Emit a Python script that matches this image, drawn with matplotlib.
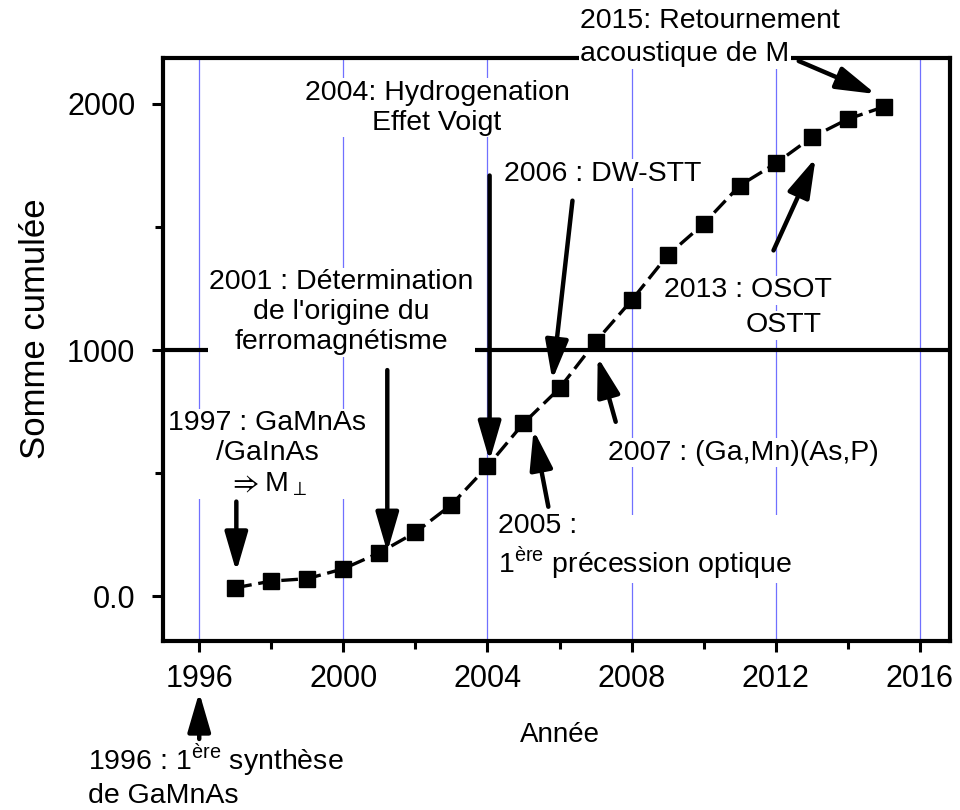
import numpy as np
import matplotlib
matplotlib.use('Agg')
import matplotlib.pyplot as plt
from matplotlib.ticker import FixedLocator, FixedFormatter

plt.rcParams['font.family'] = ['Liberation Sans', 'DejaVu Sans']
plt.rcParams['mathtext.fontset'] = 'custom'
plt.rcParams['mathtext.rm'] = 'Liberation Sans'
plt.rcParams['mathtext.fallback'] = 'stixsans'

### data
years = [1997, 1998, 1999, 2000, 2001, 2002, 2003, 2004, 2005, 2006,
         2007, 2008, 2009, 2010, 2011, 2012, 2013, 2014, 2015]
cumul = [35, 62, 72, 112, 177, 260, 372, 528, 703, 845,
         1034, 1202, 1385, 1513, 1668, 1758, 1864, 1938, 1988]

x_major = [1996, 2000, 2004, 2008, 2012, 2016]
x_minor = [1998, 2002, 2006, 2010, 2014]
y_major = [0, 1000, 2000]
y_labels = ['0.0', '1000', '2000']
y_minor = [500, 1500]

# event labels
lbl_2015 = '2015: Retournement'
lbl_2015b = 'acoustique de M'
lbl_2004 = '2004: Hydrogenation\nEffet Voigt'
lbl_2006 = '2006 : DW-STT'
lbl_2001 = "2001 : Détermination\nde l'origine du\nferromagnétisme"
lbl_1997 = '1997 : GaMnAs\n/GaInAs\n$\\Rightarrow$M$_{\\perp}$'
lbl_2005 = '2005 :\n1$^{\\mathregular{ère}}$ précession optique'
lbl_2007 = '2007 : (Ga,Mn)(As,P)'
lbl_2013 = '2013 : OSOT'
lbl_2013b = 'OSTT'
lbl_1996 = '1996 : 1$^{\\mathregular{ère}}$ synthèse\nde GaMnAs'

fig = plt.figure(figsize=(9.6, 8.1), dpi=100)
ax = fig.add_axes([0.170, 0.209, 0.820, 0.719])

ax.plot(years, cumul, color='k', lw=2.4, ls=(0, (5, 2)),
        marker='s', markersize=12, zorder=2)
ax.axhline(1000, color='k', lw=3, zorder=2)

ax.set_xlim(1995, 2016.85)
ax.set_ylim(-180, 2185)

ax.xaxis.set_major_locator(FixedLocator(x_major))
ax.xaxis.set_minor_locator(FixedLocator(x_minor))
ax.yaxis.set_major_locator(FixedLocator(y_major))
ax.yaxis.set_major_formatter(FixedFormatter(y_labels))
ax.yaxis.set_minor_locator(FixedLocator(y_minor))
ax.grid(axis='x', which='major', color='#7070ff', lw=0.9, zorder=0)
ax.set_axisbelow(True)

ax.tick_params(which='major', direction='out', length=8, width=2.2,
               labelsize=22, pad=9)
ax.tick_params(axis='y', which='major', pad=12)
ax.tick_params(which='minor', direction='out', length=6, width=2.2)
for s in ax.spines.values():
    s.set_linewidth(3)

ax.set_ylabel('Somme cumulée', fontsize=25)
ax.yaxis.set_label_coords(-0.141, 0.535)
ax.set_xlabel('Année', fontsize=20)
ax.xaxis.set_label_coords(0.504, -0.139)

box = dict(facecolor='white', edgecolor='none', pad=1)
fs = 20.5

def label(x, y, s, ha='center'):
    ax.text(x, y, s, ha=ha, va='center', fontsize=fs, bbox=box,
            multialignment=ha, linespacing=1.2, zorder=3, clip_on=False)

def arrow(tail, tip):
    ax.annotate('', xy=tip, xytext=tail, annotation_clip=False, zorder=4,
                arrowprops=dict(arrowstyle='-|>,head_length=1.2,head_width=0.35',
                                mutation_scale=20, lw=3.2, color='k',
                                shrinkA=0, shrinkB=0))

label(2006.58, 2336, lbl_2015, ha='left')
label(2006.58, 2202, lbl_2015b, ha='left')
label(2002.60, 1984, lbl_2004)
label(2007.19, 1717, lbl_2006)
label(1999.94, 1154, lbl_2001)
label(1997.89, 579, lbl_1997)
label(2004.28, 198, lbl_2005, ha='left')
label(2007.36, 583, lbl_2007, ha='left')
label(2011.22, 1243, lbl_2013)
label(2012.22, 1101, lbl_2013b)
label(1992.92, -728, lbl_1996, ha='left')

arrow((2012.64, 2174), (2014.78, 2040))
arrow((2004.06, 1709), (2004.06, 550))
arrow((2006.36, 1607), (2005.80, 879))
arrow((2001.22, 919), (2001.22, 180))
arrow((1997.03, 385), (1997.03, 100))
arrow((2005.69, 364), (2005.28, 676))
arrow((2007.56, 709), (2007.06, 972))
arrow((2011.94, 1405), (2013.11, 1781))
arrow((1996.0, -579), (1996.0, -389))

fig.savefig('out.png', dpi=100)
